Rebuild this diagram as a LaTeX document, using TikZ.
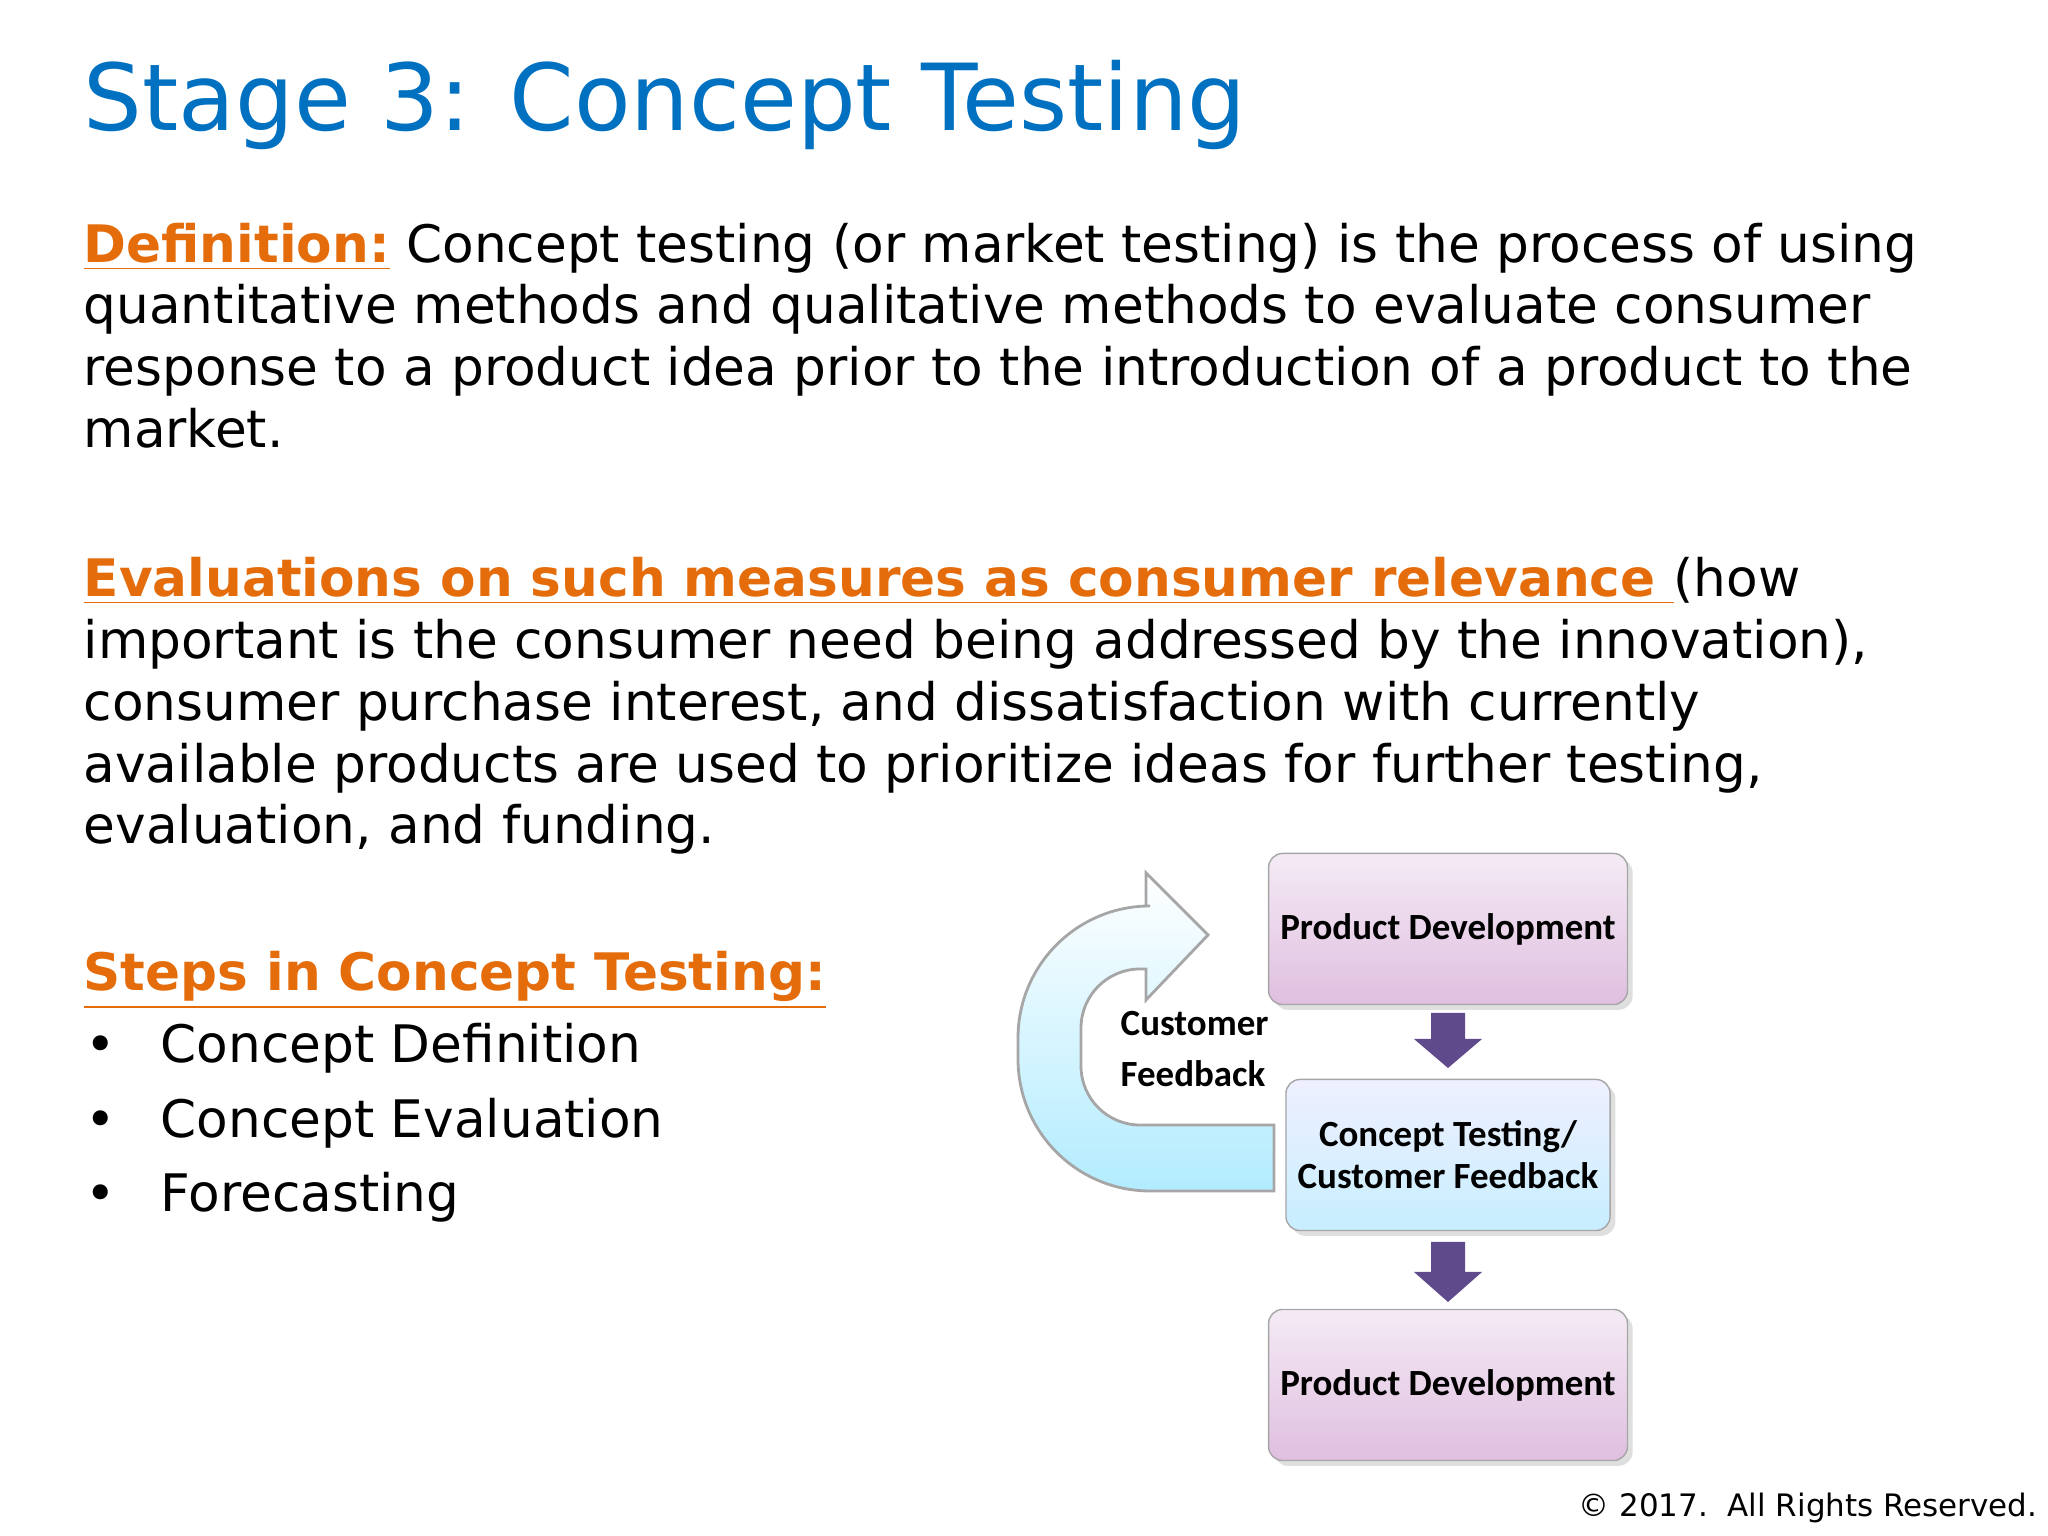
\documentclass[tikz,border=0pt]{standalone}
\usepackage{fontspec}
\setmainfont{DejaVu Sans}
\newfontfamily\boxfont{Carlito}
\usetikzlibrary{shadows}
\definecolor{ttl}{RGB}{0,112,192}
\definecolor{org}{RGB}{228,108,10}
\definecolor{purp}{RGB}{95,75,139}
\begin{document}
\begin{tikzpicture}[x=0.01cm,y=0.01cm,
  txt/.style={anchor=base west,inner sep=0,font=\fontsize{14.7}{17}\selectfont},
  pbox/.style={draw=gray!70,rounded corners=4pt,top color=violet!8,bottom color=violet!25,drop shadow={opacity=0.25,shadow xshift=1.5pt,shadow yshift=-1.5pt},minimum width=3.08cm,minimum height=1.51cm,font=\boxfont\bfseries\fontsize{10.5}{12}\selectfont,align=center},
  bbox/.style={pbox,top color=blue!6,bottom color=blue!30!cyan!22}]
\useasboundingbox (0,0) rectangle (2048,1536);
\node[anchor=base west,inner sep=0,text=ttl,font=\fontsize{26.3}{30}\selectfont] (title) at (83,1405) {Stage 3: Concept Testing};
\node[txt] (d1) at (83,1273) {{\color{org}\bfseries\underline{Definition:}} Concept testing (or market testing) is the process of using};
\node[txt] (d2) at (83,1212) {quantitative methods and qualitative methods to evaluate consumer};
\node[txt] (d3) at (83,1150) {response to a product idea prior to the introduction of a product to the};
\node[txt] (d4) at (83,1088) {market.};
\node[txt] (e1) at (83,939) {{\color{org}\bfseries\underline{Evaluations on such measures as consumer relevance }}(how};
\node[txt] (e2) at (83,877) {important is the consumer need being addressed by the innovation),};
\node[txt] (e3) at (83,815) {consumer purchase interest, and dissatisfaction with currently};
\node[txt] (e4) at (83,753) {available products are used to prioritize ideas for further testing,};
\node[txt] (e5) at (83,692) {evaluation, and funding.};
\node[txt] (sh) at (83,545) {{\color{org}\bfseries\underline{Steps in Concept Testing:}}};
\foreach \y/\t [count=\i] in {473/Concept Definition,398/Concept Evaluation,324/Forecasting}{
  \node[txt] (b\i) at (85,\y) {•};
  \node[txt] (s\i) at (160,\y) {\t};
}
% curved arrow
\path[draw=gray!70,line width=0.8pt,left color=white,right color=blue!25!cyan!30,shading angle=0]
 (1274,345) -- (1150,345) arc[start angle=270,end angle=180,radius=132]
 -- (1018,498) arc[start angle=180,end angle=90,radius=132]
 -- (1146,630) -- (1146,663) -- (1208,601) -- (1146,536) -- (1146,567) -- (1140,567)
 arc[start angle=90,end angle=180,radius=59] -- (1081,470)
 arc[start angle=180,end angle=270,radius=59] -- (1274,411) -- cycle;
\node[anchor=west,align=left,inner sep=0,font=\boxfont\bfseries\fontsize{10.5}{14.5}\selectfont] (cf) at (1120,487) {Customer\\Feedback};
\node[pbox] (p1) at (1448,607) {Product Development};
\node[bbox] (p2) at (1448,381) {Concept Testing/\\Customer Feedback};
\node[pbox] (p3) at (1448,151) {Product Development};
\fill[purp] (1431,523) -- (1465,523) -- (1465,497) -- (1482,497) -- (1448,468) -- (1414,497) -- (1431,497) -- cycle;
\fill[purp] (1431,294) -- (1465,294) -- (1465,264) -- (1482,264) -- (1448,234) -- (1414,264) -- (1431,264) -- cycle;
\node[anchor=base east,inner sep=0,font=\fontsize{8.8}{11}\selectfont] (cr) at (2038,20) {© 2017.\ \ All Rights Reserved.};
\end{tikzpicture}
\end{document}
